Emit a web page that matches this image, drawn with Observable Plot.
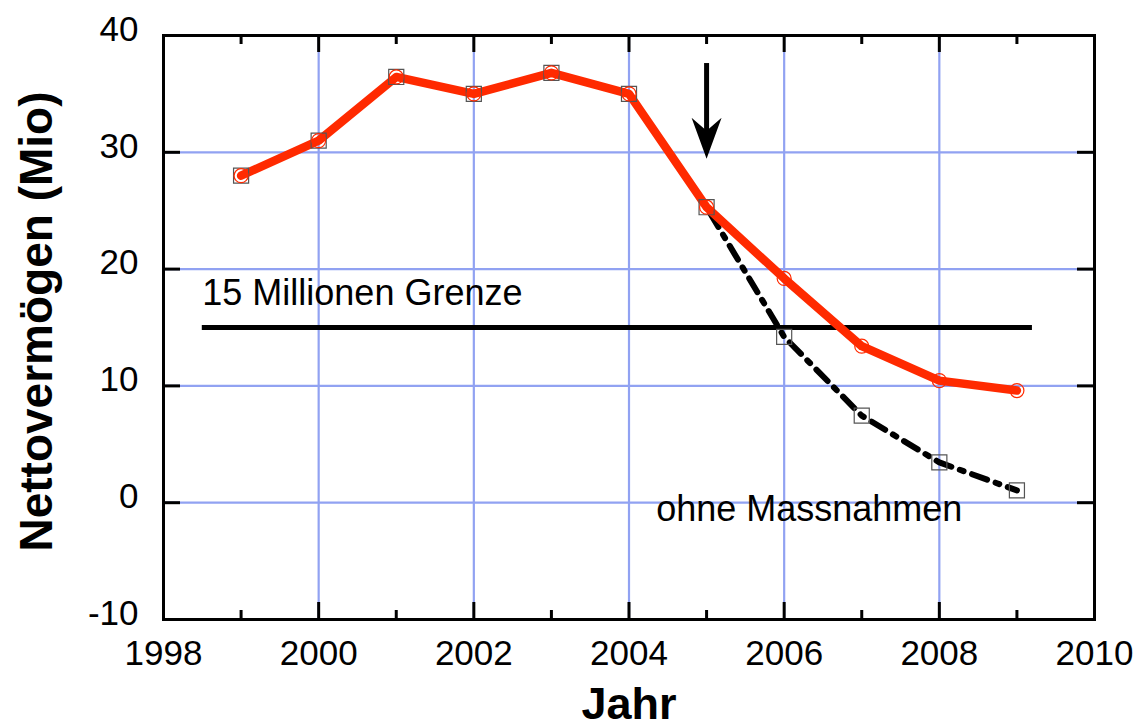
<!DOCTYPE html>
<html>
<head>
<meta charset="utf-8">
<script src="https://cdn.jsdelivr.net/npm/d3@7"></script>
<script src="https://cdn.jsdelivr.net/npm/@observablehq/plot@0.6"></script>
<style>
  html, body { margin: 0; padding: 0; background: #fff; }
</style>
</head>
<body>
<div id="chart"></div>
<script>
// ---- data ----
const years = [1999, 2000, 2001, 2002, 2003, 2004, 2005, 2006, 2007, 2008, 2009];
const mitMassnahmen = [28.0, 31.0, 36.45, 35.0, 36.8, 35.0, 25.3, 19.2, 13.4, 10.45, 9.6];
const ohneMassnahmen = [28.0, 31.0, 36.45, 35.0, 36.8, 35.0, 25.3, 14.2, 7.45, 3.45, 1.05];
const xMajorTicks = [1998, 2000, 2002, 2004, 2006, 2008, 2010];
const xMinorTicks = [1999, 2001, 2003, 2005, 2007, 2009];
const yTicks = [-10, 0, 10, 20, 30, 40];
const grenzeValue = 15;
const grenzeRange = [1998.5, 2009.2];
const grenzeLabel = "15 Millionen Grenze";
const ohneLabel = "ohne Massnahmen";
const arrowYear = 2005;
const arrowFrom = 37.6;
const arrowTip = 29.45;
const xLabel = "Jahr";
const yLabel = "Nettovermögen (Mio)";

const mit = years.map((x, i) => ({x, y: mitMassnahmen[i]}));
const ohne = years.map((x, i) => ({x, y: ohneMassnahmen[i]}));

const RED = "#ff2a00";
const GRID = "#91a2f2";
const FONT = "'Liberation Sans', Arial, Helvetica, sans-serif";

const arrowHead = {
  draw(ctx) {
    ctx.moveTo(0, 0);
    ctx.lineTo(-15, -41);
    ctx.lineTo(0, -28);
    ctx.lineTo(15, -41);
    ctx.closePath();
  }
};

const chart = Plot.plot({
  width: 1136,
  height: 728,
  marginLeft: 163,
  marginRight: 42,
  marginTop: 35,
  marginBottom: 109,
  x: {domain: [1998, 2010]},
  y: {domain: [-10, 40]},
  style: {fontFamily: FONT, fontSize: "35px", background: "#fff", color: "#000"},
  marks: [
    // grid
    Plot.gridX(xMajorTicks, {stroke: GRID, strokeOpacity: 1, strokeWidth: 2.2}),
    Plot.gridY(yTicks, {stroke: GRID, strokeOpacity: 1, strokeWidth: 2.2}),
    // axis labels
    Plot.axisX(xMajorTicks, {tickSize: 0, tickPadding: 21, tickFormat: d => String(d), label: null, fontSize: 35}),
    Plot.axisY(yTicks, {tickSize: 0, tickPadding: 25, tickFormat: d => String(d), label: null, fontSize: 35, dy: -6}),
    // inward ticks: bottom & top
    Plot.ruleX(xMajorTicks, {x: d => d, y1: -10, y2: -10, insetTop: -17, stroke: "#000", strokeWidth: 3}),
    Plot.ruleX(xMinorTicks, {x: d => d, y1: -10, y2: -10, insetTop: -9, stroke: "#000", strokeWidth: 3}),
    Plot.ruleX(xMajorTicks, {x: d => d, y1: 40, y2: 40, insetBottom: -17, stroke: "#000", strokeWidth: 3}),
    Plot.ruleX(xMinorTicks, {x: d => d, y1: 40, y2: 40, insetBottom: -9, stroke: "#000", strokeWidth: 3}),
    // inward ticks: left & right
    Plot.ruleY(yTicks, {y: d => d, x1: 1998, x2: 1998, insetRight: -17, stroke: "#000", strokeWidth: 3}),
    Plot.ruleY(yTicks, {y: d => d, x1: 2010, x2: 2010, insetLeft: -17, stroke: "#000", strokeWidth: 3}),
    // 15 Mio limit
    Plot.ruleY([grenzeValue], {y: d => d, x1: grenzeRange[0], x2: grenzeRange[1], stroke: "#000", strokeWidth: 5}),
    Plot.text([grenzeLabel], {x: grenzeRange[0], y: 17.9, text: d => d, textAnchor: "start", lineAnchor: "middle", fontSize: 36, fill: "#000"}),
    Plot.text([ohneLabel], {x: 2004.35, y: -0.6, text: d => d, textAnchor: "start", lineAnchor: "middle", fontSize: 36, fill: "#000"}),
    // series
    Plot.line(ohne, {x: "x", y: "y", stroke: "#000", strokeWidth: 6, strokeDasharray: "16,9,4,9"}),
    Plot.line(mit, {x: "x", y: "y", stroke: RED, strokeWidth: 8.5, strokeLinejoin: "round", strokeLinecap: "round"}),
    Plot.dot(ohne, {x: "x", y: "y", symbol: "square", r: 8.5, stroke: "#555", strokeWidth: 1.2, fill: "none"}),
    Plot.dot(mit, {x: "x", y: "y", symbol: "circle", r: 7, stroke: RED, strokeWidth: 1.2, fill: "none"}),
    // arrow
    Plot.ruleX([arrowYear], {x: d => d, y1: arrowFrom, y2: 31.5, stroke: "#000", strokeWidth: 5}),
    Plot.dot([arrowYear], {x: d => d, y: arrowTip, symbol: arrowHead, fill: "#000", stroke: "none", r: 5}),
    // frame
    Plot.frame({stroke: "#000", strokeWidth: 3}),
    // axis titles
    Plot.text([xLabel], {frameAnchor: "bottom", dy: 99, text: d => d, textAnchor: "middle", lineAnchor: "bottom", fontSize: 45, fontWeight: "bold", fill: "#000"}),
    Plot.text([yLabel], {frameAnchor: "left", dx: -112, dy: -6, rotate: -90, text: d => d, textAnchor: "middle", lineAnchor: "bottom", fontSize: 46, fontWeight: "bold", fill: "#000"})
  ]
});
document.getElementById("chart").appendChild(chart);
</script>
</body>
</html>
